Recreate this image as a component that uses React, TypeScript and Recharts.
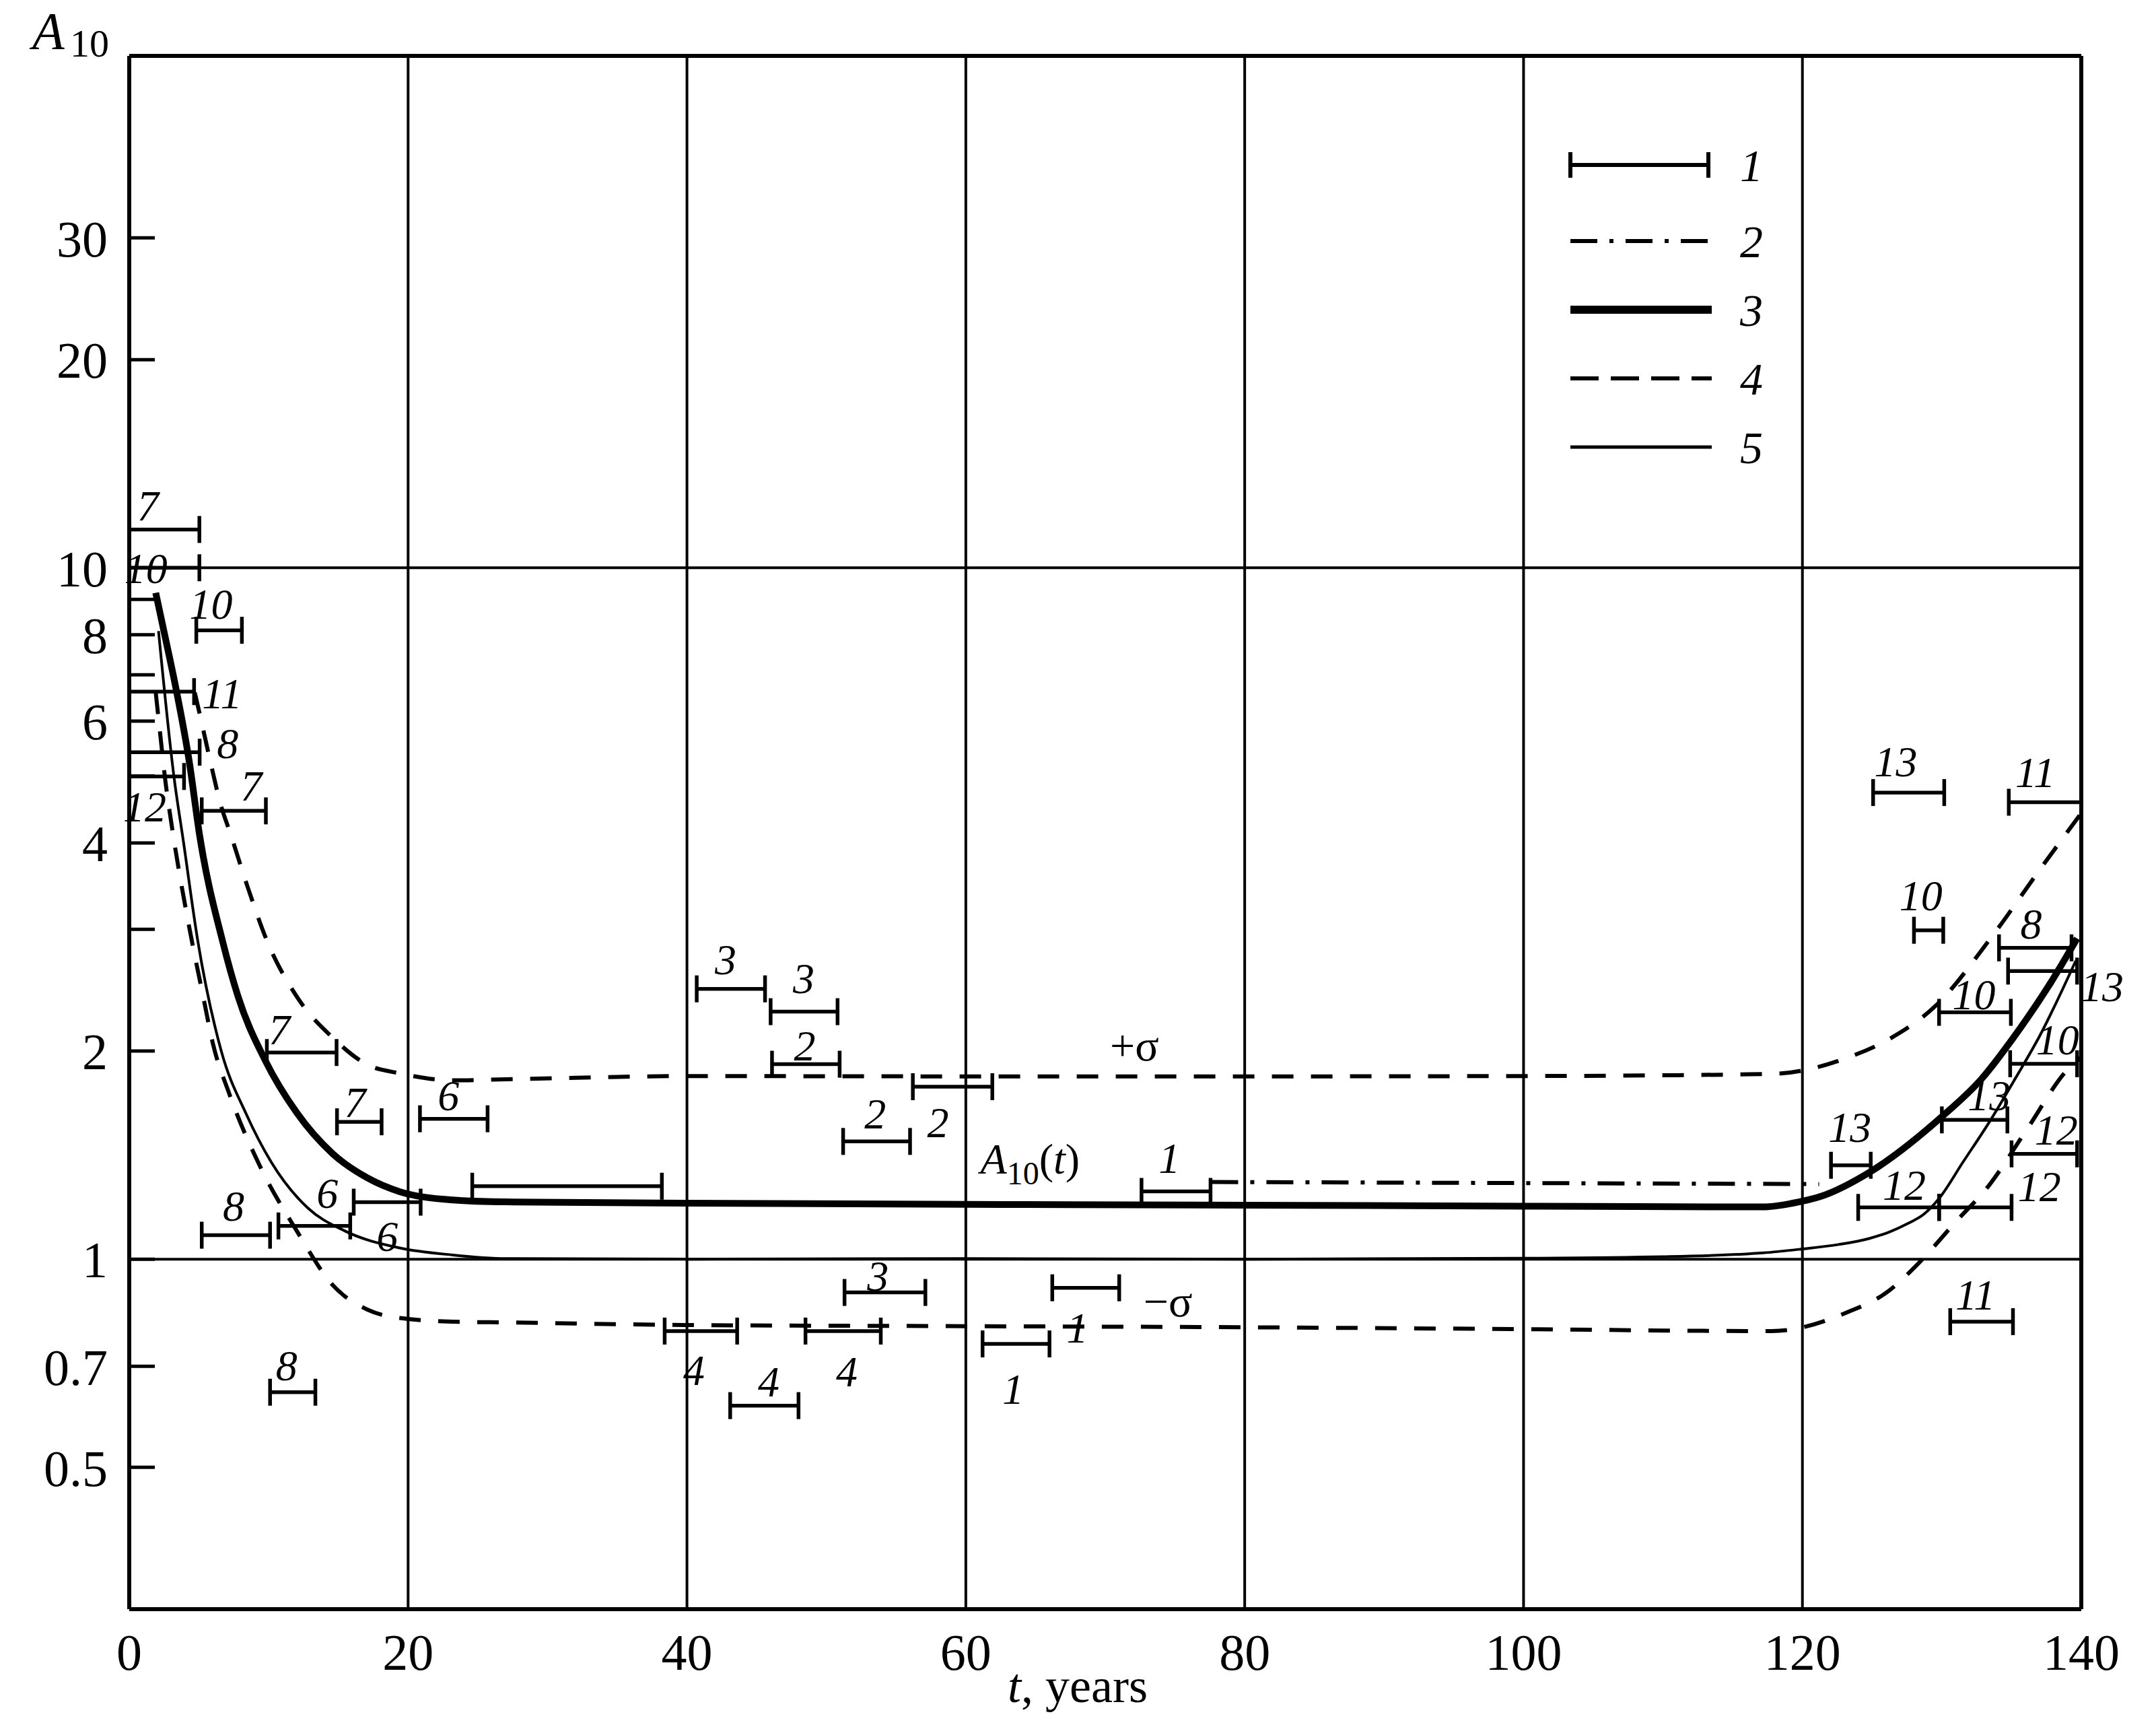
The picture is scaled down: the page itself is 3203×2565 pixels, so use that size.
import React from 'react'
import {
  ComposedChart,
  Line,
  Scatter,
  ErrorBar,
  XAxis,
  YAxis,
  CartesianGrid,
  ReferenceLine,
  ReferenceDot,
  Legend,
} from 'recharts'

const W = 3203
const H = 2565
const SERIF = '"Liberation Serif", "DejaVu Serif", serif'

// ---- data: [t (years), A10] ----
// 3: A10(t), thick solid
const meanCurve: [number, number][] = [
  [1.9, 9.2], [2.6, 7.9], [3.3, 6.77], [4.3, 5.25], [5.05, 4.1], [6.7, 2.88],
  [7.8, 2.4], [9.8, 1.93], [12.0, 1.63], [14.6, 1.42], [17.1, 1.31], [19.4, 1.252],
  [23.2, 1.218], [27, 1.21], [40, 1.205], [60, 1.2], [80, 1.197], [100, 1.193],
  [117.2, 1.19], [119.3, 1.205], [121.3, 1.232], [124.9, 1.339], [130, 1.607],
  [132.8, 1.818], [135.2, 2.1], [137.8, 2.51], [139.7, 2.91],
]

// 5: thin solid
const thinCurve: [number, number][] = [
  [2.1, 8.1], [3.2, 5.0], [3.9, 4.0], [4.9, 2.9], [6.6, 2.0], [8.4, 1.62],
  [10.2, 1.38], [12.8, 1.186], [15.4, 1.1], [19.4, 1.038], [23.2, 1.014], [27, 1.002],
  [40, 1.0], [60, 1.002], [80, 1.0], [100, 1.003], [110, 1.008], [117.2, 1.021],
  [119.9, 1.034], [122.6, 1.05], [124.7, 1.07], [126.2, 1.094], [127.6, 1.127],
  [128.7, 1.161], [129.8, 1.224], [131.5, 1.38], [133.5, 1.59], [135.3, 1.83],
  [137, 2.1], [139.6, 2.7],
]

// 4: +sigma, dashed
const upperSigma: [number, number][] = [
  [4.7, 6.6], [5.05, 6.15], [5.86, 5.2], [6.5, 4.59], [7.3, 4.1], [8.5, 3.45],
  [9.9, 2.88], [12.0, 2.4], [14.6, 2.09], [17.1, 1.91], [19.4, 1.857], [23.2, 1.814],
  [27, 1.82], [35, 1.835], [40, 1.84], [60, 1.838], [80, 1.838], [100, 1.84],
  [117.8, 1.853], [123.1, 1.952], [126.2, 2.08], [129.6, 2.33], [133.6, 2.93],
  [137.2, 3.7], [139.9, 4.39],
]

// 4: -sigma, dashed
const lowerSigma: [number, number][] = [
  [1.9, 6.6], [2.2, 5.8], [2.6, 4.9], [3.0, 4.3], [4.5, 2.88], [5.3, 2.4], [6.0, 2.05],
  [7.15, 1.74], [9.4, 1.36], [12.0, 1.1], [14.6, 0.917], [17.1, 0.845], [19.4, 0.822],
  [23.2, 0.812], [27, 0.81], [40, 0.803], [60, 0.8], [80, 0.797], [100, 0.792],
  [117.8, 0.787], [123.1, 0.836], [126.2, 0.9], [128.3, 0.985], [130.9, 1.127],
  [133.4, 1.28], [136.0, 1.53], [139.1, 1.888], [140, 1.96],
]

// 2: dash-dot
const dashDotCurve: [number, number][] = [
  [77.6, 1.293], [121.2, 1.284],
]

// 1: interval bars [from, to, level]
const intervals: [number, number, number][] = [
  [0, 5.03, 11.36], [0, 5.03, 10.0], [4.81, 8.08, 8.12], [0, 4.65, 6.62],
  [0, 5.05, 5.41], [0, 3.93, 4.99], [5.2, 9.8, 4.45], [9.87, 14.87, 1.99],
  [14.9, 18.1, 1.58], [20.85, 25.7, 1.596], [24.6, 38.2, 1.275], [16.1, 20.9, 1.209],
  [10.7, 15.85, 1.117], [5.2, 10.1, 1.083], [10.1, 13.35, 0.642],
  [40.7, 45.6, 2.46], [46.0, 50.8, 2.28], [46.1, 50.95, 1.914], [56.2, 61.9, 1.776],
  [51.2, 56.0, 1.48], [51.3, 57.1, 0.895], [38.4, 43.6, 0.787], [48.5, 53.9, 0.787],
  [43.1, 48.0, 0.614], [61.2, 66.0, 0.754], [66.2, 71.0, 0.909], [72.6, 77.55, 1.253],
  [125.07, 130.17, 4.73], [134.8, 140, 4.58], [128.0, 130.1, 2.99], [134.1, 139.3, 2.82],
  [134.75, 139.7, 2.61], [129.8, 134.95, 2.275], [134.9, 139.7, 1.917],
  [122.05, 124.9, 1.367], [130.0, 134.7, 1.59], [135.0, 139.7, 1.42],
  [124.0, 129.8, 1.188], [129.8, 135.0, 1.188], [130.6, 135.1, 0.812],
]

// source numbers written next to the bars: [text, t, A10]
const intervalTags: [string, number, number][] = [
  ['7', 1.34, 12.3], ['10', 1.2, 10.0], ['10', 5.86, 8.87], ['11', 6.66, 6.58],
  ['8', 7.06, 5.58], ['12', 1.11, 4.52], ['7', 8.75, 4.84], ['7', 10.77, 2.15],
  ['7', 16.2, 1.69], ['6', 22.9, 1.725], ['6', 14.2, 1.246], ['6', 18.5, 1.08],
  ['8', 7.48, 1.196], ['8', 11.28, 0.703],
  ['3', 42.77, 2.715], ['3', 48.37, 2.553], ['2', 48.45, 2.04], ['2', 58.0, 1.58],
  ['2', 53.5, 1.625], ['3', 53.7, 0.946], ['4', 40.5, 0.692], ['4', 51.46, 0.689],
  ['4', 45.86, 0.666], ['1', 63.4, 0.649], ['1', 68.0, 0.796], ['1', 74.6, 1.403],
  ['13', 126.7, 5.25], ['11', 136.7, 5.06], ['10', 128.5, 3.36], ['8', 136.4, 3.06],
  ['13', 141.5, 2.48], ['10', 132.3, 2.415], ['10', 138.3, 2.08], ['13', 123.4, 1.555],
  ['13', 133.4, 1.726], ['12', 138.2, 1.54], ['12', 127.3, 1.28], ['12', 137.0, 1.275],
  ['11', 132.4, 0.89],
]

const xTicks = [0, 20, 40, 60, 80, 100, 120, 140]
const yTicks = [0.5, 0.7, 1, 2, 3, 4, 5, 6, 7, 8, 9, 10, 20, 30]
const yTickLabels = ['0.5', '0.7', '1', '2', '', '4', '', '6', '', '8', '', '10', '20', '30']
const legendLabels = ['1', '2', '3', '4', '5']

const X_DOMAIN: [number, number] = [0, 140]
const Y_DOMAIN: [number, number] = [0.3117, 55]

const toPoints = (pairs: [number, number][]) => pairs.map(([t, v]) => ({ t, v }))

const intervalPoints = intervals.map(([from, to, level]) => ({
  t: (from + to) / 2,
  v: level,
  half: (to - from) / 2,
}))

function YTick({ x, y, payload }: any) {
  const i = yTicks.indexOf(payload.value)
  const axisX = x + 32
  return (
    <g>
      <line x1={axisX} x2={axisX + 38} y1={y} y2={y} stroke="#000" strokeWidth={5} />
      {yTickLabels[i] ? (
        <text x={x} y={y} dy="0.36em" textAnchor="end" fontFamily={SERIF} fontSize={76} fill="#000">
          {yTickLabels[i]}
        </text>
      ) : null}
    </g>
  )
}

function XTick({ x, y, payload }: any) {
  return (
    <text x={x} y={y} dy={90} textAnchor="middle" fontFamily={SERIF} fontSize={76} fill="#000">
      {payload.value}
    </text>
  )
}

function YTitle() {
  return (
    <g fontFamily={SERIF} fill="#000">
      <text x={48} y={72} fontSize={78} fontStyle="italic">A</text>
      <text x={104} y={84} fontSize={58}>10</text>
    </g>
  )
}

function XTitle() {
  return (
    <text x={1601} y={2528} textAnchor="middle" fontFamily={SERIF} fontSize={72} fill="#000">
      <tspan fontStyle="italic">t</tspan>, years
    </text>
  )
}

const tagShape = (text: string) => (p: any) => (
  <text x={p.cx} y={p.cy} dy="0.35em" textAnchor="middle" fontFamily={SERIF}
    fontStyle="italic" fontSize={64} fill="#000">
    {text}
  </text>
)

const meanTag = (p: any) => (
  <text x={p.cx} y={p.cy} fontFamily={SERIF} fontSize={64} fill="#000">
    <tspan fontStyle="italic">A</tspan>
    <tspan fontSize={48} dy={16}>10</tspan>
    <tspan dy={-16}>(</tspan>
    <tspan fontStyle="italic">t</tspan>
    <tspan>)</tspan>
  </text>
)

const sigmaTag = (text: string) => (p: any) => (
  <text x={p.cx} y={p.cy} dy="0.35em" textAnchor="middle" fontFamily={SERIF} fontSize={66} fill="#000">
    {text}
  </text>
)

const NoMark = () => <g />

function LegendBox() {
  const ox = 2300
  const oy = 180
  const rows = [245, 358, 460, 562, 664]
  const x1 = 2333 - ox
  const x2 = 2543 - ox
  return (
    <svg width={400} height={560} style={{ display: 'block', overflow: 'visible' }}>
      {legendLabels.map((label, i) => {
        const y = rows[i] - oy
        let mark
        if (i === 0) {
          mark = (
            <g stroke="#000" strokeWidth={6}>
              <line x1={x1} x2={x2 - 5} y1={y} y2={y} />
              <line x1={x1} x2={x1} y1={y - 19} y2={y + 19} />
              <line x1={x2 - 5} x2={x2 - 5} y1={y - 19} y2={y + 19} />
            </g>
          )
        } else if (i === 1) {
          mark = <line x1={x1} x2={x2} y1={y} y2={y} stroke="#000" strokeWidth={6} strokeDasharray="40 18 6 18" />
        } else if (i === 2) {
          mark = <line x1={x1} x2={x2} y1={y} y2={y} stroke="#000" strokeWidth={12} />
        } else if (i === 3) {
          mark = <line x1={x1} x2={x2} y1={y} y2={y} stroke="#000" strokeWidth={6} strokeDasharray="42 18" />
        } else {
          mark = <line x1={x1} x2={x2} y1={y} y2={y} stroke="#000" strokeWidth={5} />
        }
        return (
          <g key={label}>
            {mark}
            <text x={2602 - ox} y={y} dy="0.35em" textAnchor="middle" fontFamily={SERIF}
              fontStyle="italic" fontSize={68} fill="#000">
              {label}
            </text>
          </g>
        )
      })}
    </svg>
  )
}

export default function App() {
  return (
    <div style={{ position: 'fixed', left: 0, top: 0, width: W, height: H, background: '#fff' }}>
      <ComposedChart width={W} height={H} margin={{ top: 83, right: 111, bottom: 0, left: 0 }}>
        <CartesianGrid horizontal={false} stroke="#000" strokeWidth={4} />
        <XAxis
          dataKey="t"
          type="number"
          domain={X_DOMAIN}
          ticks={xTicks}
          allowDataOverflow
          height={175}
          tickLine={false}
          tickSize={0}
          tickMargin={0}
          tick={<XTick />}
          axisLine={{ stroke: '#000', strokeWidth: 6 }}
          label={<XTitle />}
        />
        <YAxis
          dataKey="v"
          type="number"
          scale="log"
          domain={Y_DOMAIN}
          ticks={yTicks}
          allowDataOverflow
          width={192}
          tickLine={false}
          tickSize={30}
          tickMargin={2}
          tick={<YTick />}
          axisLine={{ stroke: '#000', strokeWidth: 6 }}
          label={<YTitle />}
        />
        <ReferenceLine y={1} stroke="#000" strokeWidth={4} />
        <ReferenceLine y={10} stroke="#000" strokeWidth={4} />
        <ReferenceLine y={Y_DOMAIN[1]} stroke="#000" strokeWidth={6} />
        <ReferenceLine x={X_DOMAIN[1]} stroke="#000" strokeWidth={6} />

        <Line data={toPoints(upperSigma)} dataKey="v" type="monotone" stroke="#000" strokeWidth={6}
          strokeDasharray="32 26" dot={false} isAnimationActive={false} />
        <Line data={toPoints(lowerSigma)} dataKey="v" type="monotone" stroke="#000" strokeWidth={6}
          strokeDasharray="32 26" dot={false} isAnimationActive={false} />
        <Line data={toPoints(dashDotCurve)} dataKey="v" type="linear" stroke="#000" strokeWidth={6}
          strokeDasharray="40 18 6 18" dot={false} isAnimationActive={false} />
        <Line data={toPoints(thinCurve)} dataKey="v" type="monotone" stroke="#000" strokeWidth={4}
          dot={false} isAnimationActive={false} />
        <Line data={toPoints(meanCurve)} dataKey="v" type="monotone" stroke="#000" strokeWidth={10}
          dot={false} isAnimationActive={false} />

        <Scatter data={intervalPoints} dataKey="v" shape={<NoMark />} isAnimationActive={false}>
          <ErrorBar dataKey="half" direction="x" width={20} stroke="#000" strokeWidth={5.5}
            isAnimationActive={false} />
        </Scatter>

        {intervalTags.map(([text, t, v], i) => (
          <ReferenceDot key={`tag-${i}`} x={t} y={v} r={0} ifOverflow="visible" shape={tagShape(text)} />
        ))}
        <ReferenceDot x={61.05} y={1.33} r={0} ifOverflow="visible" shape={meanTag} />
        <ReferenceDot x={72.1} y={2.04} r={0} ifOverflow="visible" shape={sigmaTag('+σ')} />
        <ReferenceDot x={74.5} y={0.87} r={0} ifOverflow="visible" shape={sigmaTag('−σ')} />

        <Legend
          layout="horizontal"
          verticalAlign="middle"
          align="center"
          wrapperStyle={{ left: 2300, top: 180, width: 400, height: 560 }}
          content={() => <LegendBox />}
        />
      </ComposedChart>
    </div>
  )
}
